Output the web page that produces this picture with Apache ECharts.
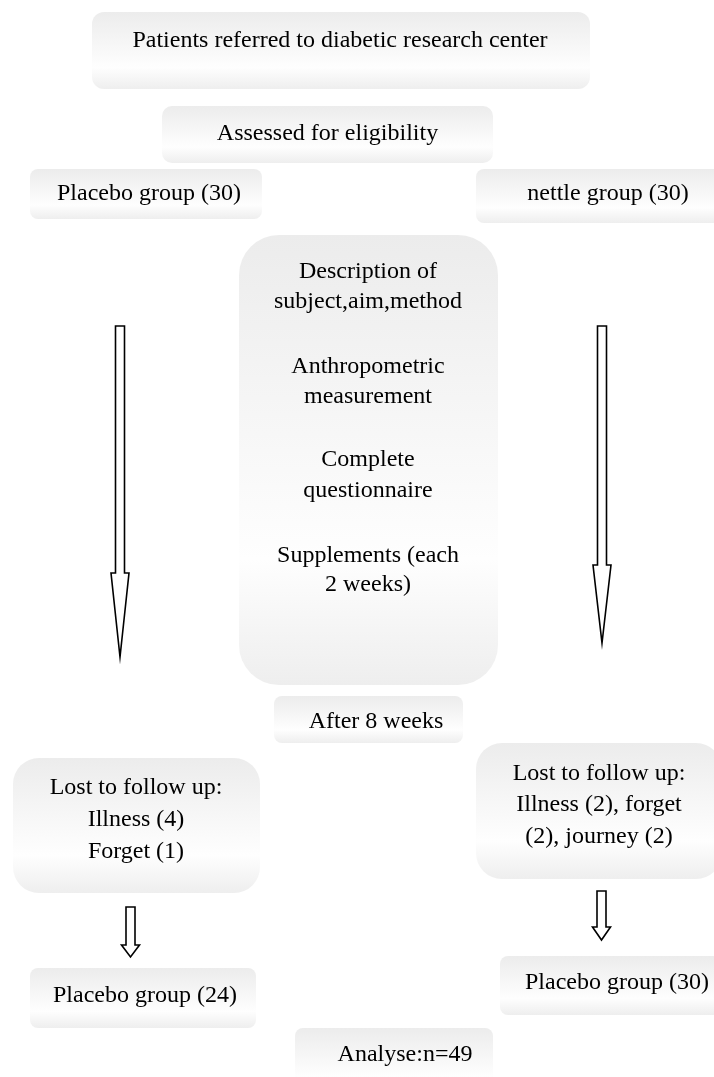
<!DOCTYPE html>
<html>
<head>
<meta charset="utf-8">
<script src="https://cdn.jsdelivr.net/npm/echarts@6/dist/echarts.min.js"></script>
<style>
html,body{margin:0;padding:0;background:#fff;}
#chart{width:714px;height:1077px;}
</style>
</head>
<body>
<div id="chart"></div>
<script>
// Flowchart nodes (in chart units: x 0..714, y 0..1077 top-down)
const boxLeft   = [92, 162, 30, 476, 239, 274, 13, 476, 30, 500, 295];
const boxTop    = [12, 106, 169, 169, 235, 696, 758, 743, 968, 956, 1028];
const boxRight  = [590, 493, 262, 722, 498, 463, 260, 722, 256, 722, 493];
const boxBottom = [89, 163, 219, 223, 685, 743, 893, 879, 1028, 1015, 1095];
const boxCorner = [12, 10, 8, 8, 40, 8, 26, 26, 8, 8, 8];

const labelText = [
  'Patients referred to diabetic research center',
  'Assessed for eligibility',
  'Placebo group (30)',
  'nettle group (30)',
  'Description of', 'subject,aim,method',
  'Anthropometric', 'measurement',
  'Complete', 'questionnaire',
  'Supplements (each', '2 weeks)',
  'After 8 weeks',
  'Lost to follow up:', 'Illness (4)', 'Forget (1)',
  'Lost to follow up:', 'Illness (2), forget', '(2), journey (2)',
  'Placebo group (24)',
  'Placebo group (30)',
  'Analyse:n=49'
];
const labelX = [340, 327.5, 149, 608, 368, 368, 368, 368, 368, 368, 368, 368, 376, 136, 136, 136, 599, 599, 599, 145, 617, 405];
const labelY = [41, 134, 194, 194, 272, 302, 367, 397, 460, 491, 556, 585, 722, 788, 820, 852, 774, 805, 837, 996, 983, 1055];

// Arrows: centre x, top, head start, tip
const arrowX     = [120, 602, 130.5, 601.5];
const arrowTop   = [326, 326, 907, 891];
const arrowHead  = [573, 565, 945, 927];
const arrowTip   = [657, 643, 957, 940];

const boxData = boxLeft.map((v, i) => [v, boxTop[i], boxRight[i], boxBottom[i], boxCorner[i]]);
const labelData = labelText.map((t, i) => [labelX[i], labelY[i], t]);
const arrowData = arrowX.map((v, i) => [v, arrowTop[i], arrowHead[i], arrowTip[i]]);

const chart = echarts.init(document.getElementById('chart'), null, {renderer: 'canvas'});

const fillGrad = new echarts.graphic.LinearGradient(0, 0, 0, 1, [
  {offset: 0, color: '#ececec'},
  {offset: 0.72, color: '#fefefe'},
  {offset: 1, color: '#eeeeee'}
]);

chart.setOption({
  animation: false,
  backgroundColor: '#ffffff',
  grid: {left: 0, right: 0, top: 0, bottom: 0},
  xAxis: {type: 'value', min: 0, max: 714, show: false},
  yAxis: {type: 'value', min: 0, max: 1077, inverse: true, show: false},
  series: [
    {
      type: 'custom',
      clip: false,
      data: boxData,
      renderItem: function (params, api) {
        const p0 = api.coord([api.value(0), api.value(1)]);
        const p1 = api.coord([api.value(2), api.value(3)]);
        const sx = api.size([1, 1]);
        const r = api.value(4) * sx[0];
        return {
          type: 'rect',
          shape: {x: p0[0], y: p0[1], width: p1[0] - p0[0], height: p1[1] - p0[1], r: r},
          style: {fill: fillGrad, stroke: null}
        };
      }
    },
    {
      type: 'custom',
      clip: false,
      data: arrowData,
      renderItem: function (params, api) {
        const cx = api.value(0);
        const top = api.value(1), head = api.value(2), tip = api.value(3);
        const sw = 4.5, hw = 9;
        const pts = [
          [cx - sw, top], [cx + sw, top], [cx + sw, head], [cx + hw, head],
          [cx, tip], [cx - hw, head], [cx - sw, head]
        ].map(p => api.coord(p));
        return {
          type: 'polygon',
          shape: {points: pts},
          style: {fill: '#ffffff', stroke: '#000000', lineWidth: 1.6, lineJoin: 'miter'}
        };
      }
    },
    {
      type: 'custom',
      clip: false,
      data: labelData,
      renderItem: function (params, api) {
        const p = api.coord([api.value(0), api.value(1)]);
        return {
          type: 'text',
          x: p[0], y: p[1],
          style: {
            text: labelText[params.dataIndex],
            fill: '#000000',
            font: '24px "Liberation Serif", "Times New Roman", serif',
            align: 'center',
            verticalAlign: 'middle'
          }
        };
      }
    }
  ]
});
</script>
</body>
</html>
